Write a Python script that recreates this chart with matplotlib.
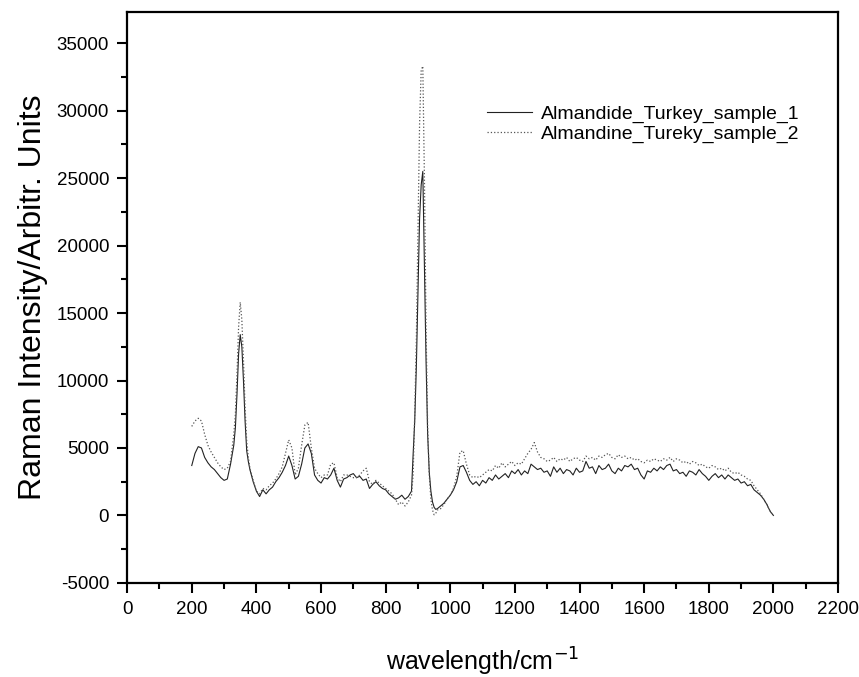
"""Raman spectra of two almandine garnet samples (Turkey)."""
import numpy as np
import matplotlib
matplotlib.use('Agg')
import matplotlib.pyplot as plt
from matplotlib.ticker import MultipleLocator

plt.rcParams['font.family'] = ['Liberation Sans', 'DejaVu Sans']
plt.rcParams['axes.unicode_minus'] = False

# wavenumber grid: finer around the two sharp peaks
wavenumber = np.concatenate([
    np.arange(200, 331, 10),
    np.arange(335, 376, 5),
    np.arange(380, 881, 10),
    np.arange(885, 961, 5),
    np.arange(970, 2001, 10),
])

sample_1 = [
    # 200-330
    3700, 4600, 5100, 5000, 4300, 3900, 3600, 3400, 3100, 2800, 2600, 2700, 3800, 5200,
    # 335-375
    6500, 9000, 12000, 13400, 12500, 10000, 7000, 4800, 4000,
    # 380-880
    3400, 2500, 1800, 1400, 1900, 1600, 1900, 2100, 2500, 2800,
    3200, 3700, 4400, 3700, 2700, 2900, 3800, 5000, 5300, 4600,
    3000, 2600, 2400, 2800, 2700, 3000, 3500, 2600, 2100, 2700,
    2800, 3000, 3100, 2800, 2900, 2600, 2700, 2000, 2300, 2500,
    2200, 2000, 1900, 1600, 1400, 1200, 1300, 1500, 1200, 1400,
    1800,
    # 885-960
    4500, 7000, 11000, 16500, 22000, 24500, 25500, 18500,
    11500, 6000, 3200, 1800, 1000, 600, 450, 500,
    # 970-2000
    700, 900, 1200, 1500, 1900, 2500, 3600, 3700, 3200, 2600,
    2300, 2500, 2200, 2600, 2400, 2800, 2600, 3000, 2700, 2900,
    3100, 2800, 3300, 3100, 3400, 3000, 3300, 3100, 3800, 3600,
    3400, 3500, 3200, 3300, 2900, 3600, 3200, 3500, 3100, 3400,
    3300, 3000, 3500, 3200, 3300, 4000, 3500, 3600, 3100, 3700,
    3400, 3500, 3800, 3300, 3100, 3500, 3300, 3700, 3600, 3800,
    3400, 3500, 3000, 2700, 3300, 3200, 3500, 3300, 3600, 3400,
    3700, 3800, 3300, 3400, 3100, 3200, 2900, 3300, 3200, 3000,
    3400, 3100, 2900, 2600, 2900, 3100, 2800, 3000, 2700, 3000,
    2800, 2600, 2700, 2400, 2500, 2200, 2300, 1900, 1700, 1500,
    1200, 800, 300, 0,
]

sample_2 = [
    # 200-330
    6600, 7000, 7200, 7000, 6000, 5200, 4700, 4300, 3900, 3600, 3400, 3500, 4000, 6000,
    # 335-375
    7500, 10500, 14000, 15800, 14500, 11500, 8000, 5500, 4300,
    # 380-880
    3500, 2600, 1800, 1600, 2000, 1900, 2200, 2400, 2700, 3100,
    3600, 4600, 5600, 5000, 3000, 3500, 5200, 6700, 6900, 5000,
    3500, 3100, 2800, 3000, 3000, 3800, 3900, 2800, 2500, 3000,
    3000, 2900, 2800, 2800, 3000, 3300, 3500, 2500, 2300, 2600,
    2400, 2200, 2000, 1800, 1600, 1200, 800, 1000, 700, 1000,
    1500,
    # 885-960
    3000, 7500, 13000, 21000, 29000, 33000, 33300, 25000,
    14000, 6500, 3000, 1200, 400, 50, 150, 400,
    # 970-2000
    500, 800, 1200, 1500, 2000, 2900, 4700, 4800, 3800, 3000,
    2800, 2900, 2800, 3000, 3200, 3400, 3300, 3700, 3500, 3900,
    3600, 3800, 4000, 3700, 3900, 3800, 4200, 4600, 4900, 5400,
    4700, 4300, 4200, 4000, 4100, 4300, 4000, 4200, 4100, 4300,
    4000, 4200, 4300, 4100, 4000, 4400, 4200, 4300, 4100, 4400,
    4300, 4500, 4600, 4300, 4200, 4500, 4300, 4400, 4200, 4300,
    4100, 4200, 4000, 3900, 4100, 4000, 4200, 4100, 4000, 4200,
    4100, 4300, 4000, 4200, 4100, 3900, 4000, 3800, 4000, 3900,
    3700, 3800, 3600, 3500, 3700, 3600, 3400, 3500, 3300, 3500,
    3200, 3100, 3200, 3000, 2900, 2700, 2600, 2200, 1900, 1600,
    1200, 800, 300, 0,
]

labels = ["Almandide_Turkey_sample_1", "Almandine_Tureky_sample_2"]

fig = plt.figure(figsize=(8.59, 6.77), dpi=100)
ax = fig.add_axes([0.148, 0.139, 0.8276, 0.843])

ax.plot(wavenumber, sample_1, color='#222222', linewidth=0.8, linestyle='-', label=labels[0])
ax.plot(wavenumber, sample_2, color='#555555', linewidth=0.9, linestyle=':', label=labels[1])

ax.set_xlim(0, 2200)
ax.set_ylim(-5000, 37300)
ax.xaxis.set_major_locator(MultipleLocator(200))
ax.xaxis.set_minor_locator(MultipleLocator(100))
ax.yaxis.set_major_locator(MultipleLocator(5000))
ax.yaxis.set_minor_locator(MultipleLocator(2500))

ax.tick_params(which='both', direction='out', top=False, right=False, width=1.5)
ax.tick_params(which='major', length=7, labelsize=13.5, pad=6)
ax.tick_params(which='minor', length=4)
for sp in ax.spines.values():
    sp.set_linewidth(1.6)

ax.set_xlabel("wavelength/cm$^{-1}$", fontsize=18, labelpad=20)
ax.set_ylabel("Raman Intensity/Arbitr. Units", fontsize=23, labelpad=6)

ax.legend(loc='upper left', bbox_to_anchor=(0.482, 0.868), frameon=False,
          fontsize=14, handlelength=2.3, handletextpad=0.45, labelspacing=0.1)

fig.savefig("out.png", dpi=100)
